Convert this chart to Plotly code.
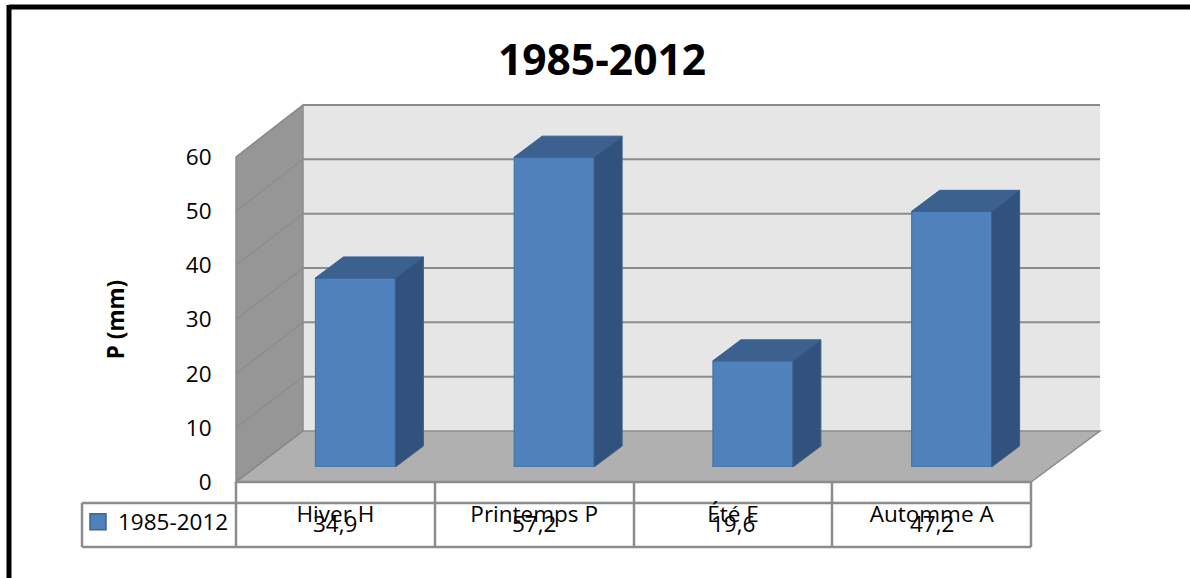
import plotly.graph_objects as go

categories = ["Hiver H", "Printemps P", "Été E", "Automme A"]
values = [34.9, 57.2, 19.6, 47.2]
value_labels = ["34,9", "57,2", "19,6", "47,2"]
series_name = "1985-2012"
y_ticks = [0, 10, 20, 30, 40, 50, 60]

W, H = 1190, 578
FONT = "Open Sans"
PX_PER_UNIT = 325 / 60
PX_PER_CAT = 795 / 4
DEPTH_X, DEPTH_Y = 28, 21
BAR_WIDTH = 80 / PX_PER_CAT
LINE = "#8c8c8c"


def px(x):
    return x / W


def py(y):
    return 1 - y / H


def poly(points, fill, line=LINE, width=1.5):
    path = "M " + " L ".join(f"{px(a):.5f},{py(b):.5f}" for a, b in points) + " Z"
    return dict(type="path", path=path, xref="paper", yref="paper", fillcolor=fill,
                line=dict(color=line, width=width), layer="below")


def seg(x0, y0, x1, y1, color=LINE, width=2):
    return dict(type="line", xref="paper", yref="paper", x0=px(x0), y0=py(y0), x1=px(x1), y1=py(y1),
                line=dict(color=color, width=width), layer="below")


shapes = [
    poly([(236, 157), (303, 105), (1100, 105), (1100, 431), (303, 431)], "#e6e6e6", line="#e6e6e6", width=0),
    poly([(236, 157), (303, 105), (303, 431), (236, 482)], "#969696"),
    poly([(236, 482), (303, 431), (1100, 431), (1031, 482)], "#b0b0b0"),
]
for t in y_ticks:
    front = 482 - t * PX_PER_UNIT
    back = 431 - t * (326 / 60)
    shapes.append(seg(236, front, 303, back, color="#868686", width=1))
    if t:
        shapes.append(seg(303, back, 1100, back, width=2))

# data table grid
for xv in [236, 435, 634, 832, 1031]:
    shapes.append(seg(xv, 482, xv, 547, width=2.5))
shapes += [seg(82, 503, 1031, 503, width=2.5), seg(82, 547, 1031, 547, width=2.5),
           seg(82, 503, 82, 547, width=2.5), seg(236, 482, 1031, 482, width=2.5)]

# page frame
shapes += [seg(9, 7, W, 7, color="#000000", width=5), seg(9, 5, 9, H, color="#000000", width=5)]

fig = go.Figure()
xs = list(range(len(categories)))
dx = DEPTH_X / PX_PER_CAT
dy = DEPTH_Y / PX_PER_UNIT

top_x, top_y, side_x, side_y = [], [], [], []
for i, v in zip(xs, values):
    l, r = i - BAR_WIDTH / 2, i + BAR_WIDTH / 2
    top_x += [l, l + dx, r + dx, r, l, None]
    top_y += [v, v + dy, v + dy, v, v, None]
    side_x += [r, r + dx, r + dx, r, r, None]
    side_y += [0, dy, v + dy, v, 0, None]

fig.add_trace(go.Scatter(x=top_x, y=top_y, xaxis="x2", yaxis="y2", mode="lines", fill="toself",
                         fillcolor="#3c618f", line=dict(color="#3a5f8c", width=1),
                         showlegend=False, hoverinfo="skip"))
fig.add_trace(go.Scatter(x=side_x, y=side_y, xaxis="x2", yaxis="y2", mode="lines", fill="toself",
                         fillcolor="#31527c", line=dict(color="#3a5f8c", width=1),
                         showlegend=False, hoverinfo="skip"))
fig.add_trace(go.Bar(x=xs, y=values, width=BAR_WIDTH, xaxis="x2", yaxis="y2",
                     marker=dict(color="#4f81bd", line=dict(color="#41709f", width=1)),
                     showlegend=False))
fig.add_trace(go.Scatter(x=xs, y=[None] * 4, xaxis="x", yaxis="y", mode="markers",
                         marker=dict(symbol="square", size=16, color="#4f81bd",
                                     line=dict(color="#3a6595", width=1.5)),
                         name=series_name, showlegend=True))

annotations = [
    dict(x=i, xref="x", y=py(523), yref="paper", text=s, showarrow=False,
         xanchor="center", yanchor="middle", font=dict(family=FONT, size=22.5, color="#000000"))
    for i, s in zip(xs, value_labels)
]

fig.update_layout(
    template="none",
    width=W, height=H, autosize=False,
    margin=dict(l=0, r=0, t=0, b=0, pad=0),
    paper_bgcolor="white", plot_bgcolor="rgba(0,0,0,0)",
    title=dict(text="<b>1985-2012</b>", x=px(602), y=py(60), xref="paper", yref="paper",
               xanchor="center", yanchor="middle", automargin=False,
               font=dict(family=FONT, size=42.5, color="#000000")),
    font=dict(family=FONT, size=22.5, color="#000000"),
    shapes=shapes, annotations=annotations,
    showlegend=True,
    legend=dict(x=px(78), y=py(522), xanchor="left", yanchor="middle", bgcolor="rgba(0,0,0,0)",
                font=dict(family=FONT, size=22.5, color="#000000"), itemsizing="trace"),
    xaxis=dict(domain=[px(236), px(1031)], range=[-0.5, 3.5], tickvals=xs, ticktext=categories,
               anchor="y", showgrid=False, zeroline=False, showline=False, automargin=False,
               ticks="outside", ticklen=12, tickcolor="rgba(0,0,0,0)",
               tickfont=dict(family=FONT, size=22.5, color="#000000")),
    yaxis=dict(domain=[py(482), py(157)], range=[0, 60], tickvals=y_ticks, anchor="x",
               showgrid=False, zeroline=False, showline=False, automargin=False,
               ticks="outside", ticklen=19, tickcolor="rgba(0,0,0,0)",
               tickfont=dict(family=FONT, size=22.5, color="#000000"),
               title=dict(text="<b>P (mm)</b>", standoff=54, font=dict(family=FONT, size=22.5, color="#000000"))),
    xaxis2=dict(domain=[px(256), px(1051)], range=[-0.5, 3.5], anchor="y2", visible=False, automargin=False),
    yaxis2=dict(domain=[py(467), py(467 - 70 * PX_PER_UNIT)], range=[0, 70], anchor="x2", visible=False, automargin=False),
)

fig.write_html("out.html", post_script="document.body.style.margin='0';", config={"displayModeBar": False})
